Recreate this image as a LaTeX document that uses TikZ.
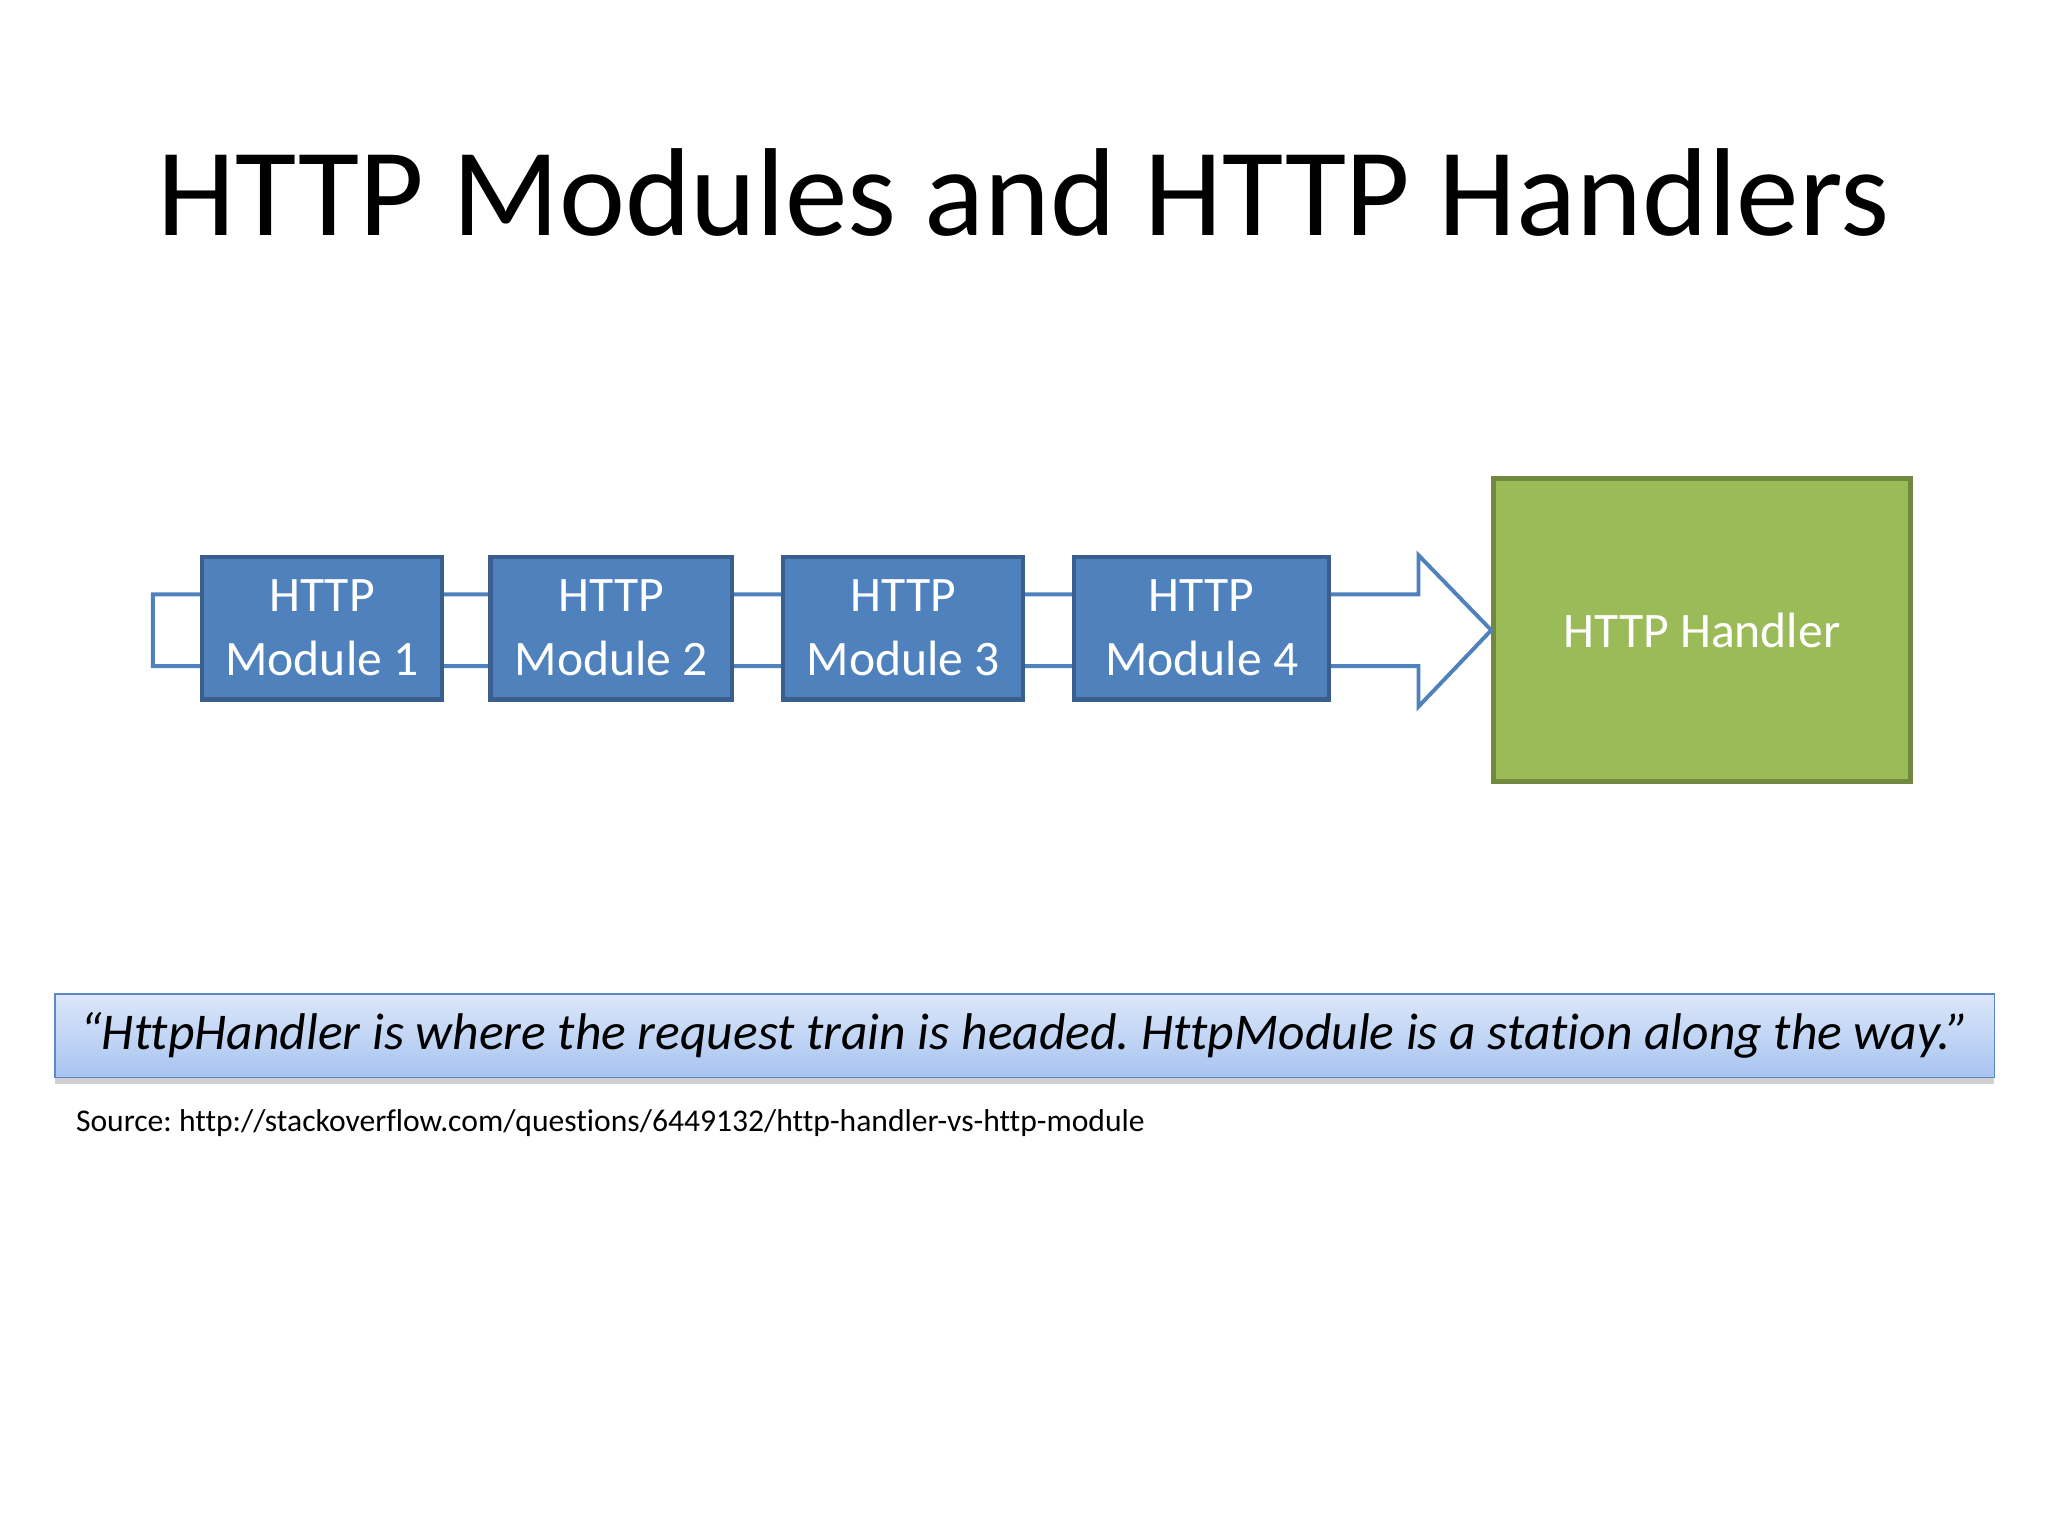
\documentclass[tikz,border=0pt]{standalone}
\usepackage{fontspec}
\setmainfont{Carlito}[Ligatures={NoCommon}]
\frenchspacing
\usetikzlibrary{shadows}
\definecolor{modfill}{HTML}{4F81BD}
\definecolor{modborder}{HTML}{3A5F8E}
\definecolor{bandline}{HTML}{4F81BD}
\definecolor{handfill}{HTML}{9BBB59}
\definecolor{handborder}{HTML}{71893F}
\definecolor{quotetop}{HTML}{DCE7F9}
\definecolor{quotebot}{HTML}{A8C4F1}
\definecolor{quoteborder}{HTML}{5B87C5}
\begin{document}
\begin{tikzpicture}[x=1pt,y=-1pt,
  module/.style={draw=modborder, fill=modfill, line width=3.2pt, inner sep=0pt,
    minimum height=109pt, text=white, align=center,
    font=\fontsize{38}{49}\selectfont},
  handler/.style={draw=handborder, fill=handfill, line width=3.5pt, inner sep=0pt,
    minimum width=319pt, minimum height=232pt, text=white,
    font=\fontsize{38}{47}\selectfont},
  band/.style={draw=bandline, fill=white, line width=3pt, line join=miter},
  quotebox/.style={draw=quoteborder, line width=1.2pt, top color=quotetop, bottom color=quotebot,
    minimum width=1485pt, minimum height=64pt, inner sep=0pt,
    drop shadow={shadow xshift=0pt, shadow yshift=-5pt, opacity=0.3, fill=black!60},
    font=\fontsize{39.5}{44}\selectfont\itshape},
]
\useasboundingbox (0,0) rectangle (1568,1176);

% title
\node[anchor=base, font=\fontsize{95.8}{110}\selectfont] (title) at (784,180) {HTTP Modules and HTTP Handlers};

% handler (needed for arrow tip)
\node[handler] (hand) at (1303,482.5) {HTTP Handler};

% band arrow behind the modules
\coordinate (bandL) at (117,482.5);
\draw[band] (bandL |- 0,455) -- (1086,455) -- (1086,425) -- (hand.west) -- (1086,541) -- (1086,510) -- (bandL |- 0,510) -- cycle;

% modules
\node[module, minimum width=184pt] (m1) at (246.5,481) {HTTP\\Module 1};
\node[module, minimum width=185pt] (m2) at (468,481) {HTTP\\Module 2};
\node[module, minimum width=184pt] (m3) at (691.5,481) {HTTP\\Module 3};
\node[module, minimum width=195pt] (m4) at (920,481) {HTTP\\Module 4};

% quote
\node[quotebox] (quote) at (784.5,793) {\raisebox{-2.5pt}{“HttpHandler is where the request train is headed. HttpModule is a station along the way.”}};

% source
\node[anchor=base west, inner sep=0pt, font=\fontsize{24.2}{28}\selectfont] (src) at (58,866) {Source: http://stackoverflow.com/questions/6449132/http-handler-vs-http-module};
\end{tikzpicture}
\end{document}
